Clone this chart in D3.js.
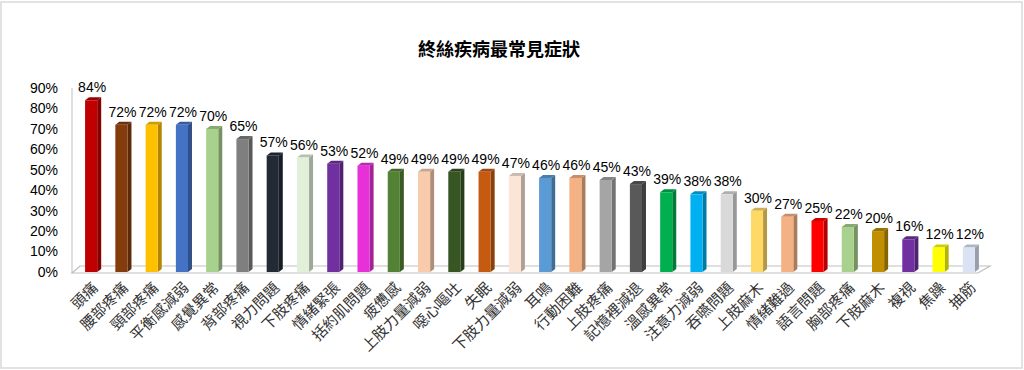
<!DOCTYPE html>
<html>
<head>
<meta charset="utf-8">
<script src="https://cdn.jsdelivr.net/npm/d3@7"></script>
<style>
  html, body { margin: 0; padding: 0; background: #fff; }
  svg { display: block; }
</style>
</head>
<body>
<svg id="chart" width="1024" height="370"></svg>
<script>
const title = "終絲疾病最常見症狀";
const categories = ["頭痛","腰部疼痛","頸部疼痛","平衡感減弱","感覺異常","背部疼痛","視力問題","下肢疼痛","情緒緊張","括約肌問題","疲憊感","上肢力量減弱","噁心嘔吐","失眠","下肢力量減弱","耳鳴","行動困難","上肢疼痛","記憶裡減退","溫感異常","注意力減弱","吞嚥問題","上肢麻木","情緒難過","語言問題","胸部疼痛","下肢麻木","複視","焦躁","抽筋"];
const values = [84,72,72,72,70,65,57,56,53,52,49,49,49,49,47,46,46,45,43,39,38,38,30,27,25,22,20,16,12,12];
const colors = ["#C00000","#843C0C","#FFC000","#4472C4","#A9D18E","#7F7F7F","#222A35","#E2F0D9","#7030A0","#E830D8","#548235","#F8CBAD","#375623","#C55A11","#FBE5D6","#5B9BD5","#F4B183","#A5A5A5","#595959","#00B050","#00B0F0","#D9D9D9","#FFD966","#F4B183","#FF0000","#A9D18E","#BF8F00","#7030A0","#FFFF00","#DAE3F3"];
const yTicks = [0,10,20,30,40,50,60,70,80,90];

const svg = d3.select("#chart");
const W = 1024, H = 370;

// outer border
svg.append("rect").attr("x",1).attr("y",2).attr("width",W-3).attr("height",H-4)
  .attr("fill","#fff").attr("stroke","#d9d9d9").attr("stroke-width",1.5);

// title
svg.append("text").attr("x",499).attr("y",56).attr("text-anchor","middle")
  .attr("font-family","'Noto Sans CJK TC', sans-serif").attr("font-weight","bold")
  .attr("font-size",18).attr("fill","#000").text(title);

const y = d3.scaleLinear().domain([0,90]).range([272,88]);
const x = d3.scaleBand().domain(categories).range([76,984]).paddingInner(0.6).paddingOuter(0.3);

// floor
svg.append("path").attr("d","M72,273 L978,273 L990,266 L80,266 Z")
  .attr("fill","#fff").attr("stroke","#bfbfbf").attr("stroke-width",1.2);

// y axis line
svg.append("line").attr("x1",72).attr("x2",72).attr("y1",88).attr("y2",273)
  .attr("stroke","#bfbfbf").attr("stroke-width",1);

// y tick labels
svg.append("g").selectAll("text").data(yTicks).join("text")
  .attr("x",58).attr("y",d=>y(d)).attr("dy","0.35em").attr("text-anchor","end")
  .attr("font-family","'Liberation Sans', Arial, sans-serif").attr("font-size",14)
  .attr("fill","#000").text(d=>d+"%");

const dx = 4, dy = 3;
const bw = x.bandwidth();
const bars = svg.append("g").selectAll("g").data(categories).join("g");
bars.each(function(c,i){
  const g = d3.select(this);
  const x0 = x(c), v = values[i], col = colors[i];
  const yt = y(v), yb = y(0);
  // side face
  g.append("path")
    .attr("d",`M${x0+bw},${yt} L${x0+bw+dx},${yt-dy} L${x0+bw+dx},${yb-dy} L${x0+bw},${yb} Z`)
    .attr("fill", d3.color(col).darker(1).formatHex());
  // top face
  g.append("path")
    .attr("d",`M${x0},${yt} L${x0+dx},${yt-dy} L${x0+bw+dx},${yt-dy} L${x0+bw},${yt} Z`)
    .attr("fill", d3.color(col).darker(0.6).formatHex());
  // front
  g.append("rect").attr("x",x0).attr("y",yt).attr("width",bw).attr("height",yb-yt)
    .attr("fill",col);
  // value label
  g.append("text").attr("x",x0+bw/2+1).attr("y",yt-8).attr("text-anchor","middle")
    .attr("font-family","'Liberation Sans', Arial, sans-serif").attr("font-size",14)
    .attr("fill","#000").text(v+"%");
  // category label
  const lx = x0+bw/2+4, ly = 285;
  g.append("text").attr("transform",`translate(${lx},${ly}) rotate(-45)`)
    .attr("text-anchor","end").attr("dy","0.35em")
    .attr("font-family","'Noto Sans CJK TC', sans-serif").attr("font-size",15)
    .attr("fill","#333").text(c);
});
</script>
</body>
</html>
